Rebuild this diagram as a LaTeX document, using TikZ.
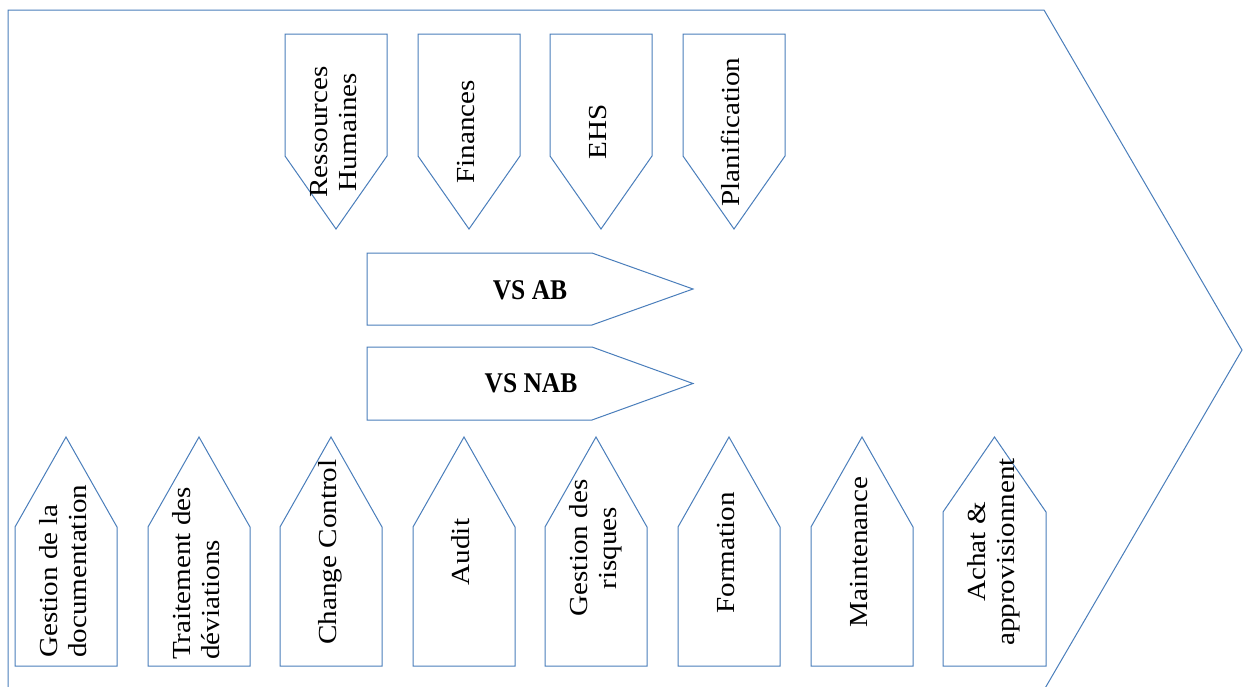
\documentclass[tikz,border=0pt]{standalone}
\usepackage{fontspec}
\setmainfont{Liberation Serif}
\usepackage{graphicx}
\definecolor{edge}{RGB}{74,126,187}
% vertical label: text reads bottom to top, slightly stretched along its length
\newcommand\vlabel[2][c]{\scalebox{1}[1.12]{\rotatebox{90}{\begin{tabular}{@{}#1@{}}#2\end{tabular}}}}
\newcommand\hlabel[1]{\scalebox{1}[1.12]{#1}}
\begin{document}
\begin{tikzpicture}[x=1pt,y=-1pt,
  tab/.style={draw=edge,line width=1pt,line join=miter,fill=white},
  lbl/.style={inner sep=0pt,font=\fontsize{26}{29}\selectfont},
  blbl/.style={inner sep=0pt,font=\fontsize{25.5}{29}\selectfont\bfseries}]
\useasboundingbox (0,0) rectangle (1243,686);
\clip (0,0) rectangle (1243,686);

% outer chevron
\draw[tab] (8,10) -- (1044,10) -- (1242,350) -- (1044,690) -- (8,690) -- cycle;

% support functions (top, pointing down)
\foreach \xl in {285,418,550,683}
  \draw[tab] (\xl,34) -- ++(102,0) -- ++(0,122) -- ++(-51,73) -- ++(-51,-73) -- cycle;
\node[lbl] (rh)   at (336,132) {\vlabel{Ressources\\Humaines}};
\node[lbl] (fin)  at (469,132) {\vlabel{Finances}};
\node[lbl] (ehs)  at (601,132) {\vlabel{EHS}};
\node[lbl] (plan) at (734,132) {\vlabel{Planification}};

% value streams
\draw[tab] (367,253) -- (592,253) -- (693,289) -- (592,325) -- (367,325) -- cycle;
\draw[tab] (367,347) -- (592,347) -- (693,383.5) -- (592,420) -- (367,420) -- cycle;
\node[blbl] (vsab)  at (530,290) {\hlabel{VS AB}};
\node[blbl] (vsnab) at (531,383) {\hlabel{VS NAB}};

% quality processes (bottom, pointing up)
\foreach \xl in {15,148,280,413,545,678,811}
  \draw[tab] (\xl,666) -- (\xl,527) -- ++(51,-90) -- ++(51,90) -- ++(0,139) -- cycle;
\draw[tab] (943,666) -- (943,512) -- ++(51.5,-75) -- ++(51.5,75) -- ++(0,154) -- cycle;

\node[lbl,anchor=south] (doc)  at (66,658)  {\vlabel[l]{Gestion de la\\documentation}};
\node[lbl,anchor=south] (dev)  at (199,660) {\vlabel[l]{Traitement des\\déviations}};
\node[lbl] (cc)    at (331,552) {\vlabel{Change Control}};
\node[lbl] (aud)   at (464,552) {\vlabel{Audit}};
\node[lbl] (risk)  at (596,548) {\vlabel{Gestion des\\risques}};
\node[lbl] (form)  at (729,553) {\vlabel{Formation}};
\node[lbl] (maint) at (862,552) {\vlabel{Maintenance}};
\node[lbl] (achat) at (994,552) {\vlabel{Achat \&\\approvisionnent}};
\end{tikzpicture}
\end{document}
